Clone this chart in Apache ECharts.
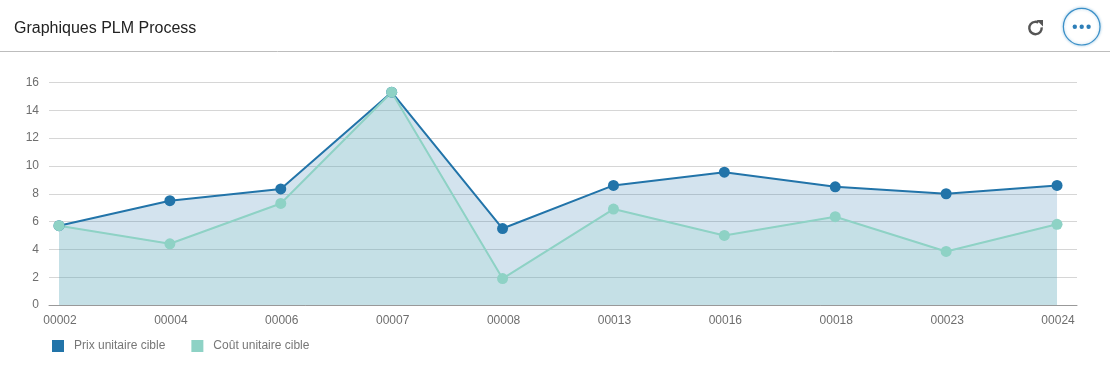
<!DOCTYPE html>
<html>
<head>
<meta charset="utf-8">
<style>
  html, body { margin: 0; padding: 0; background: #fff; }
  #main { width: 1112px; height: 366px; }
</style>
<script src="https://cdn.jsdelivr.net/npm/echarts@6/dist/echarts.min.js"></script>
</head>
<body>
<div id="main"></div>
<script>
var categories = ['00002','00004','00006','00007','00008','00013','00016','00018','00023','00024'];
var prixCible = [5.7, 7.5, 8.35, 15.3, 5.5, 8.6, 9.55, 8.5, 8.0, 8.6];
var coutCible = [5.7, 4.4, 7.3, 15.3, 1.9, 6.9, 5.0, 6.35, 3.85, 5.8];
var yTicks = 2;

function toPairs(values) {
    return values.map(function (v, i) { return [i, v]; });
}

var chart = echarts.init(document.getElementById('main'), null, { renderer: 'canvas' });

var option = {
    animation: false,
    textStyle: { fontFamily: 'Arial, "Liberation Sans", sans-serif' },
    title: {
        text: 'Graphiques PLM Process',
        left: 9, top: 16,
        textStyle: { fontSize: 16, fontWeight: 'normal', color: '#222' }
    },
    graphic: [
        // header rule
        { type: 'line', shape: { x1: 0, y1: 51.5, x2: 1110, y2: 51.5 }, style: { stroke: '#bdbdbd', lineWidth: 1 } },
        // refresh button
        { type: 'arc', shape: { cx: 1035.5, cy: 28, r: 6.2, startAngle: -0.1, endAngle: 5.2 }, style: { stroke: '#555', lineWidth: 2.4, fill: null } },
        { type: 'polygon', shape: { points: [[1036.5, 20], [1043, 20], [1043, 26.5]] }, style: { fill: '#555' } },
        // more button
        { type: 'circle', shape: { cx: 1081.7, cy: 26.7, r: 18.3 }, style: { fill: '#fff', stroke: '#3a8fc7', lineWidth: 1.2, shadowBlur: 3, shadowColor: 'rgba(58,143,199,0.45)' } },
        { type: 'circle', shape: { cx: 1074.8, cy: 26.7, r: 2.2 }, style: { fill: '#2e7fb8' } },
        { type: 'circle', shape: { cx: 1081.7, cy: 26.7, r: 2.2 }, style: { fill: '#2e7fb8' } },
        { type: 'circle', shape: { cx: 1088.6, cy: 26.7, r: 2.2 }, style: { fill: '#2e7fb8' } }
    ],
    legend: {
        left: 47, top: 335,
        itemWidth: 12, itemHeight: 12, itemGap: 26,
        icon: 'rect',
        textStyle: { fontSize: 12, color: '#777', padding: [0, 0, 0, 5] },
        data: ['Prix unitaire cible', 'Coût unitaire cible']
    },
    grid: { left: 49, right: 35, top: 82.5, bottom: 61 },
    xAxis: {
        type: 'value',
        min: -0.09,
        max: 9.18,
        splitLine: { show: false },
        axisTick: { show: false },
        axisLine: { show: true, lineStyle: { color: '#999' } },
        axisLabel: {
            color: '#6e6e6e', fontSize: 12, margin: 10,
            padding: [0, 0, 0, 2],
            customValues: categories.map(function (c, i) { return i; }),
            formatter: function (v) { return categories[v]; }
        }
    },
    yAxis: {
        type: 'value',
        min: 0, max: 16, interval: yTicks,
        axisLine: { show: false },
        axisTick: { show: false },
        splitLine: { lineStyle: { color: '#d6d6d6' } },
        axisLabel: { color: '#6e6e6e', fontSize: 12, margin: 10 }
    },
    series: [
        {
            name: 'Prix unitaire cible',
            type: 'line',
            data: toPairs(prixCible),
            symbol: 'circle', symbolSize: 11, showSymbol: true,
            itemStyle: { color: '#2274a9' },
            lineStyle: { color: '#2274a9', width: 2 },
            areaStyle: { color: '#2274a9', opacity: 0.2 }
        },
        {
            name: 'Coût unitaire cible',
            type: 'line',
            data: toPairs(coutCible),
            symbol: 'circle', symbolSize: 11, showSymbol: true,
            itemStyle: { color: '#8ed2c5' },
            lineStyle: { color: '#8ed2c5', width: 2 },
            areaStyle: { color: '#8ed2c5', opacity: 0.2 }
        }
    ]
};

chart.setOption(option);
</script>
</body>
</html>
